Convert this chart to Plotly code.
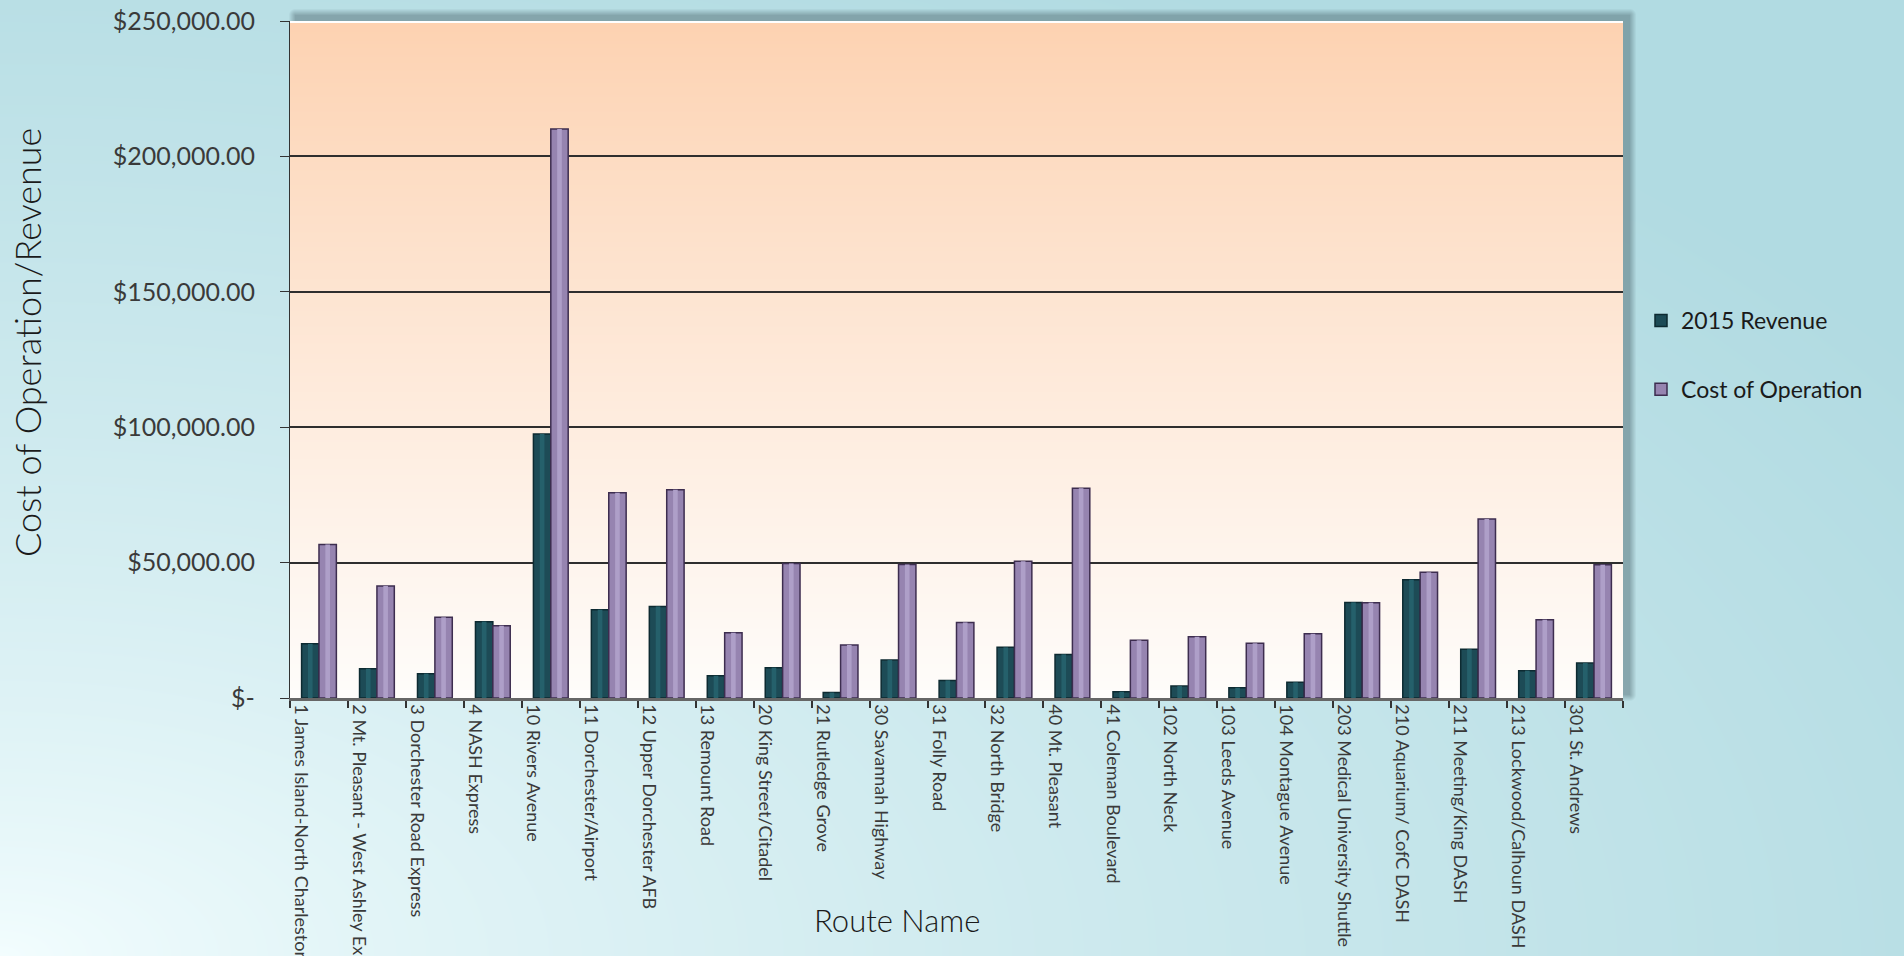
import base64, struct, zlib
import numpy as np
import plotly.graph_objects as go

routes = [
    "1 James Island-North Charleston", "2 Mt. Pleasant - West Ashley Express",
    "3 Dorchester Road Express", "4 NASH Express", "10 Rivers Avenue",
    "11 Dorchester/Airport", "12 Upper Dorchester AFB", "13 Remount Road",
    "20 King Street/Citadel", "21 Rutledge Grove", "30 Savannah Highway",
    "31 Folly Road", "32 North Bridge", "40 Mt. Pleasant", "41 Coleman Boulevard",
    "102 North Neck", "103 Leeds Avenue", "104 Montague Avenue",
    "203 Medical University Shuttle", "210 Aquarium/ CofC DASH",
    "211 Meeting/King DASH", "213 Lockwood/Calhoun DASH", "301 St. Andrews",
]
revenue_2015 = [20000, 10800, 9000, 28200, 97500, 32600, 33800, 8200, 11200, 2000,
                14000, 6500, 18700, 16100, 2300, 4400, 3800, 5800, 35300, 43700,
                18000, 10100, 12900]
cost_of_operation = [56700, 41400, 29800, 26700, 210100, 75800, 76900, 24100, 49700,
                     19600, 49300, 27900, 50500, 77500, 21300, 22600, 20200, 23700,
                     35200, 46400, 66100, 28900, 49200]
y_tick_values = [0, 50000, 100000, 150000, 200000, 250000]
y_tick_labels = ["$-", "$50,000.00", "$100,000.00", "$150,000.00", "$200,000.00", "$250,000.00"]

W, H = 1904, 956
ML, MR, MT, MB = 290, 281, 21, 258
PL, PR, PT, PB = ML, W - MR, MT, H - MB
PW, PH = PR - PL, PB - PT
FONT = "Lato"


def make_png(rgb):
    h, w, _ = rgb.shape
    a = rgb.astype(np.int16)
    diff = np.empty_like(a)
    diff[:, 0] = a[:, 0]
    diff[:, 1:] = a[:, 1:] - a[:, :-1]
    diff = (diff % 256).astype(np.uint8)
    raw = np.concatenate([np.ones((h, 1), np.uint8), diff.reshape(h, w * 3)], axis=1).tobytes()

    def chunk(t, d):
        c = struct.pack(">I", len(d)) + t + d
        return c + struct.pack(">I", zlib.crc32(t + d) & 0xffffffff)

    png = b"\x89PNG\r\n\x1a\n" + chunk(b"IHDR", struct.pack(">IIBBBBB", w, h, 8, 2, 0, 0, 0))
    png += chunk(b"IDAT", zlib.compress(raw, 9)) + chunk(b"IEND", b"")
    return "data:image/png;base64," + base64.b64encode(png).decode()


def background():
    yy, xx = np.mgrid[0:H, 0:W].astype(float)
    d = np.sqrt((xx / W) ** 2 + ((H - yy) / H) ** 2) / 1.2
    t = np.clip(d, 0, 1) ** 0.75
    light = np.array([244, 254, 255], float)
    dark = np.array([177, 219, 226], float)
    img = light + (dark - light) * t[..., None]
    # drop shadow of plot area (offset right/up)
    sx0, sx1, sy0, sy1 = PL + 5, PR + 6, PT - 6, PB - 4
    dx = np.maximum(np.maximum(sx0 - xx, xx - sx1), 0)
    dy = np.maximum(np.maximum(sy0 - yy, yy - sy1), 0)
    dist = np.sqrt(dx ** 2 + dy ** 2)
    alpha = 0.45 * np.clip(1 - dist / 7.0, 0, 1)
    sh = np.array([70, 95, 102], float)
    img = img * (1 - alpha[..., None]) + sh * alpha[..., None]
    # plot area vertical gradient
    top = np.array([253, 210, 177], float)
    bot = np.array([255, 253, 251], float)
    ty = np.clip((yy - PT) / PH, 0, 1)
    grad = top + (bot - top) * (ty ** 0.9)[..., None]
    inside = (xx >= PL) & (xx < PR) & (yy >= PT) & (yy < PB)
    img[inside] = grad[inside]
    edge = (xx >= PL) & (xx < PR) & (yy >= PT) & (yy < PT + 2)
    img[edge] = [255, 255, 255]
    return make_png(np.clip(img, 0, 255).astype(np.uint8))


fig = go.Figure()
fig.add_trace(go.Bar(
    x=routes, y=revenue_2015, name="2015 Revenue", legendgroup="rev",
    offset=-0.3, width=0.3,
    marker=dict(color="#1d4b56", line=dict(color="#0d2a31", width=1.5)),
))
fig.add_trace(go.Bar(
    x=routes, y=revenue_2015, showlegend=False, hoverinfo="skip", legendgroup="rev",
    offset=-0.19, width=0.08,
    marker=dict(color="#25606b", line=dict(width=0)),
))
fig.add_trace(go.Bar(
    x=routes, y=cost_of_operation, name="Cost of Operation", legendgroup="cost",
    offset=0.0, width=0.3,
    marker=dict(color="#9684b0", line=dict(color="#3d2d4f", width=1.5)),
))
fig.add_trace(go.Bar(
    x=routes, y=cost_of_operation, showlegend=False, hoverinfo="skip", legendgroup="cost",
    offset=0.11, width=0.08,
    marker=dict(color="#ae9fc8", line=dict(width=0)),
))

fig.update_layout(
    template="none",
    width=W, height=H,
    margin=dict(l=ML, r=MR, t=MT, b=MB, pad=0),
    paper_bgcolor="#cfeaef",
    plot_bgcolor="rgba(0,0,0,0)",
    font=dict(family=FONT, color="#333333"),
    barmode="overlay",
    showlegend=True,
    legend=dict(
        x=(1641 - PL) / PW, y=(PB - 355) / PH, xanchor="left", yanchor="middle",
        font=dict(size=23, color="#1a1a1a", family=FONT),
        bgcolor="rgba(0,0,0,0)", traceorder="grouped", tracegroupgap=36,
    ),
    images=[dict(
        source=background(), xref="paper", yref="paper",
        x=-ML / PW, y=1 + MT / PH, sizex=W / PW, sizey=H / PH,
        xanchor="left", yanchor="top", sizing="stretch", layer="below",
    )],
    annotations=[
        dict(text="Cost of Operation/Revenue", xref="paper", yref="paper",
             x=(27 - PL) / PW, y=(PB - 343) / PH, textangle=-90, showarrow=False,
             font=dict(size=36, color="#1a1a1a", family=FONT, weight=300),
             xanchor="center", yanchor="middle"),
        dict(text="Route Name", xref="paper", yref="paper",
             x=(897 - PL) / PW, y=(PB - 920) / PH, showarrow=False,
             font=dict(size=31, color="#1a1a1a", family=FONT, weight=300),
             xanchor="center", yanchor="middle"),
    ],
)
fig.update_xaxes(
    type="category", automargin=False, tickangle=90, tickson="boundaries",
    ticks="outside", ticklen=7, tickwidth=1.5, tickcolor="#333333",
    showline=True, linecolor="#666666", linewidth=2.5,
    showgrid=False, zeroline=False, ticklabelshift=-18,
    tickfont=dict(size=18, color="#3a3a3a", family=FONT),
)
fig.update_yaxes(
    range=[0, 250000], automargin=False, tickvals=y_tick_values, ticktext=y_tick_labels,
    ticks="outside", ticklen=9, tickwidth=1.2, tickcolor="#333333",
    showline=True, linecolor="#333333", linewidth=1.2,
    showgrid=True, gridcolor="#2e2e2e", gridwidth=1.5, zeroline=False,
    ticklabelstandoff=20,
    tickfont=dict(size=25, color="#3a3a3a", family=FONT),
)

fig.write_html(
    "out.html",
    config={"displayModeBar": False},
    post_script="document.body.style.margin='0';document.body.style.overflow='hidden';",
)
